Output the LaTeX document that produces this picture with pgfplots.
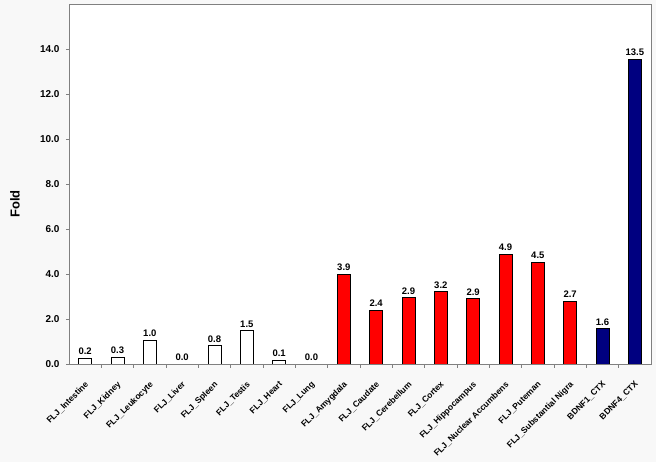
\documentclass[border=0pt]{standalone}
\usepackage{fontspec}
\setmainfont{Liberation Sans}
\usepackage{pgfplots}
\pgfplotsset{compat=1.18}
\definecolor{bgc}{HTML}{F8F8F8}
\definecolor{framec}{HTML}{808080}
\definecolor{brainred}{HTML}{FF0000}
\definecolor{ctxblue}{HTML}{000080}

\begin{document}
\begin{tikzpicture}
\path[use as bounding box, fill=bgc] (-69pt,-98pt) rectangle (587pt,364pt);
\begin{axis}[
  at={(0pt,0pt)}, anchor=south west,
  scale only axis, width=582pt, height=360pt,
  ybar, bar width=13pt, bar shift=0pt,
  xmin=-0.5, xmax=17.5, ymin=0, ymax=16,
  axis background/.style={fill=white},
  axis line style={framec, line width=0.8pt},
  tick align=outside,
  xtick pos=bottom, ytick pos=left,
  ytick={0,2,...,14},
  yticklabel style={font=\bfseries\fontsize{10}{12}\selectfont,
    /pgf/number format/fixed, /pgf/number format/fixed zerofill,
    /pgf/number format/precision=1, xshift=-3pt},
  /pgf/number format/assume math mode=true,
  major tick length=3pt, minor tick length=4pt,
  ytick style={framec, line width=0.8pt},
  xtick={0,...,17},
  minor x tick num=1,
  major x tick style={draw=none},
  minor x tick style={framec, line width=0.8pt},
  xticklabels={FLJ\_Intestine, FLJ\_Kidney, FLJ\_Leukocyte, FLJ\_Liver,
    FLJ\_Spleen, FLJ\_Testis, FLJ\_Heart, FLJ\_Lung, FLJ\_Amygdala,
    FLJ\_Caudate, FLJ\_Cerebellum, FLJ\_Cortex, FLJ\_Hippocampus,
    FLJ\_Nuclear Accumbens, FLJ\_Puteman, FLJ\_Substantial Nigra,
    BDNF1\_CTX, BDNF4\_CTX},
  xticklabel style={font=\bfseries\fontsize{8.5}{10}\selectfont,
    rotate=45, anchor=north east, inner sep=1pt, xshift=-9pt, yshift=-8pt},
  ylabel={Fold},
  ylabel style={font=\bfseries\fontsize{13}{15}\selectfont,
    at={(axis description cs:-0.093,0.444)}, anchor=center},
  point meta=explicit symbolic,
  nodes near coords,
  nodes near coords style={font=\bfseries\fontsize{9.5}{11}\selectfont,
    text=black, inner sep=1pt, yshift=2pt},
]
\addplot[fill=white, draw=black, line width=0.8pt] coordinates {
  (0,0.27) [0.2] (1,0.30) [0.3] (2,1.05) [1.0] (3,0.0) [0.0]
  (4,0.81) [0.8] (5,1.48) [1.5] (6,0.16) [0.1] (7,0.0) [0.0]};
\addplot[fill=brainred, draw=black, line width=0.8pt] coordinates {
  (8,3.99) [3.9] (9,2.39) [2.4] (10,2.95) [2.9] (11,3.21) [3.2]
  (12,2.90) [2.9] (13,4.87) [4.9] (14,4.52) [4.5] (15,2.79) [2.7]};
\addplot[fill=ctxblue, draw=black, line width=0.8pt] coordinates {
  (16,1.57) [1.6] (17,13.54) [13.5]};
\end{axis}
\end{tikzpicture}
\end{document}
